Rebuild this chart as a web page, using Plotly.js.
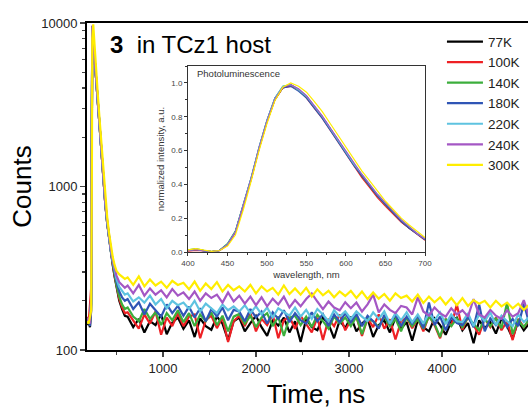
<!DOCTYPE html>
<html>
<head>
<meta charset="utf-8">
<script src="https://cdn.plot.ly/plotly-3.0.1.min.js"></script>
<style>
html,body{margin:0;padding:0;overflow:hidden;background:#fff;}
#chart{width:560px;height:409px;}
</style>
</head>
<body>
<div id="chart"></div>
<script>
// ---------- main decay data ----------
const temperatures = ['77K','100K','140K','180K','220K','240K','300K'];
const colors = ['#000000','#ee2024','#3cae3c','#2f55b5','#5ec3e0','#a457c4','#ffed00'];

const timeNs = [185,200,215,228,236,240,250,265,280,300,320,340,360,380,400,420,440,460,480,500,530,560,590,
  620,680,740,800,860,920,980,1040,1100,1160,
  1220,1280,1340,1400,1460,1520,1580,1640,1700,1760,
  1820,1880,1940,2000,2060,2120,2180,2240,2300,2360,
  2420,2480,2540,2600,2660,2720,2780,2840,2900,2960,
  3020,3080,3140,3200,3260,3320,3380,3440,3500,3560,
  3620,3680,3740,3800,3860,3920,3980,4040,4100,4160,
  4220,4280,4340,4400,4460,4520,4580,4640,4700,4760,
  4820,4880,4940];

const counts77K = [142,150,138,175,3200,9600,7900,6000,4600,3250,2300,1600,1080,780,600,480,400,330,280,240,200,178,162,
  160,138,155,128,150,142,165,125,147,158,
  135,152,120,156,140,133,160,145,115,150,
  158,130,146,162,138,122,152,141,158,128,
  150,112,155,138,132,158,144,118,152,136,
  160,130,145,155,120,142,152,128,158,135,
  148,114,152,138,130,156,142,124,150,158,
  132,146,110,152,136,148,126,156,140,118,
  150,132,146];
const counts100K = [160,145,190,240,3000,9500,7900,6000,4600,3250,2300,1600,1080,780,600,480,400,335,285,245,205,183,168,
  170,150,135,165,145,172,124,158,140,168,
  140,160,165,118,152,162,136,158,112,150,
  162,140,168,130,155,142,165,118,152,160,
  135,162,145,128,158,115,155,140,165,132,
  152,160,122,156,138,165,135,154,116,150,
  158,136,155,130,162,142,118,155,140,190,
  133,160,142,124,155,138,158,132,150,115,
  155,138,152];
const counts140K = [150,155,145,200,3100,9550,7900,6000,4600,3250,2300,1600,1080,780,600,480,400,340,290,250,212,190,178,
  182,160,150,178,155,170,142,168,152,175,
  148,168,140,165,150,170,142,162,130,160,
  166,145,162,138,158,168,140,160,122,158,
  162,142,160,138,164,150,135,160,145,158,
  140,160,125,156,150,138,160,140,155,130,
  158,140,154,135,160,145,120,155,140,156,
  138,158,145,132,155,140,156,136,195,125,
  152,138,155];
const counts180K = [148,152,140,190,3000,9550,7900,6000,4600,3250,2300,1600,1080,780,600,480,400,345,300,262,228,210,200,
  205,178,196,165,192,175,160,190,168,186,
  162,184,158,180,150,178,160,182,152,176,
  172,150,178,158,172,145,170,155,175,148,
  168,152,145,170,150,166,140,165,148,168,
  148,166,140,162,150,135,164,145,165,140,
  160,145,162,136,195,142,160,132,158,146,
  142,160,138,190,130,156,142,160,138,155,
  140,192,145];
const counts220K = [155,145,160,200,3100,9600,7950,6050,4650,3280,2320,1620,1090,790,610,490,405,350,305,272,243,228,218,
  222,198,210,195,215,190,205,180,200,188,
  195,178,200,172,192,180,168,190,175,185,
  172,188,168,185,165,182,158,180,170,162,
  182,160,176,155,178,165,150,175,160,172,
  155,172,160,150,170,155,172,145,168,152,
  170,148,165,145,168,152,170,144,165,150,
  148,168,140,165,150,170,142,162,150,140,
  165,148,160];
const counts240K = [150,158,145,210,3200,9650,8000,6100,4700,3300,2340,1640,1100,800,620,495,410,355,315,285,260,248,240,
  248,222,250,215,238,218,232,210,236,215,
  225,205,228,200,222,208,218,195,225,198,
  215,192,212,188,210,185,206,190,212,182,
  202,185,205,222,198,178,198,182,175,196,
  180,195,172,190,218,170,190,176,168,186,
  182,165,210,172,162,182,168,160,180,165,
  175,160,205,165,158,176,162,155,175,160,
  168,202,158];
const counts300K = [150,145,160,175,1500,8000,9800,7000,5200,3600,2500,1750,1180,850,650,520,430,370,330,305,290,280,272,
  278,250,282,245,270,248,262,240,265,250,
  258,235,262,230,255,236,260,228,250,232,
  245,228,250,222,245,228,240,218,248,220,
  238,218,240,212,235,216,230,210,228,214,
  230,208,228,205,225,206,220,200,222,208,
  215,198,218,194,212,196,210,190,208,188,
  208,186,202,192,200,182,200,185,195,180,
  192,176,190];
const decaySeries = [counts77K,counts100K,counts140K,counts180K,counts220K,counts240K,counts300K];

// ---------- inset photoluminescence data ----------
const wavelengthNm = [400,410,420,430,440,450,460,470,480,490,500,510,520,530,540,550,560,570,580,590,600,610,620,630,640,650,660,670,680,690,700];
const pl77K  = [0.010,0.015,0.008,0.003,0.010,0.045,0.120,0.270,0.430,0.610,0.770,0.900,0.970,0.990,0.960,0.920,0.860,0.800,0.730,0.660,0.590,0.520,0.450,0.390,0.330,0.280,0.230,0.180,0.140,0.110,0.075];
const pl100K = [0.005,0.010,0.006,0.002,0.008,0.040,0.115,0.265,0.430,0.610,0.770,0.900,0.970,0.980,0.960,0.910,0.850,0.790,0.720,0.650,0.580,0.510,0.440,0.380,0.320,0.270,0.220,0.175,0.140,0.105,0.070];
const pl140K = [0.012,0.020,0.010,0.003,0.010,0.050,0.125,0.280,0.440,0.620,0.780,0.910,0.980,0.990,0.960,0.920,0.860,0.800,0.730,0.660,0.590,0.520,0.450,0.390,0.330,0.280,0.230,0.185,0.145,0.110,0.075];
const pl180K = [0.008,0.015,0.007,0.002,0.009,0.045,0.120,0.275,0.440,0.620,0.780,0.910,0.970,0.980,0.950,0.910,0.850,0.790,0.720,0.650,0.580,0.510,0.450,0.390,0.330,0.280,0.230,0.180,0.140,0.105,0.072];
const pl220K = [0.010,0.016,0.008,0.003,0.010,0.045,0.120,0.275,0.440,0.620,0.780,0.910,0.980,0.990,0.960,0.920,0.860,0.800,0.730,0.660,0.590,0.520,0.460,0.400,0.340,0.290,0.240,0.190,0.150,0.110,0.078];
const pl240K = [0.010,0.016,0.008,0.003,0.010,0.043,0.118,0.270,0.435,0.615,0.775,0.905,0.975,0.990,0.965,0.925,0.865,0.805,0.735,0.665,0.595,0.525,0.460,0.400,0.340,0.290,0.240,0.190,0.150,0.110,0.078];
const pl300K = [0.012,0.020,0.012,0.004,0.009,0.035,0.100,0.250,0.420,0.600,0.760,0.895,0.975,1.000,0.980,0.945,0.890,0.830,0.760,0.690,0.620,0.550,0.480,0.420,0.360,0.300,0.250,0.200,0.160,0.120,0.085];
const plSeries = [pl77K,pl100K,pl140K,pl180K,pl220K,pl240K,pl300K];

// tick labels / positions
const yMajorTicks = [100,1000,10000];
const yMajorLabels = ['100','1000','10000'];
const yMinorTicks = [200,300,400,500,600,700,800,900,2000,3000,4000,5000,6000,7000,8000,9000];
const xTicks = [1000,2000,3000,4000];

const traces = [];
temperatures.forEach((name,i)=>{
  traces.push({
    x: timeNs, y: decaySeries[i], type:'scatter', mode:'lines', name: name,
    line:{color:colors[i], width:2.2}, xaxis:'x', yaxis:'y'
  });
});
temperatures.forEach((name,i)=>{
  traces.push({
    x: wavelengthNm, y: plSeries[i], type:'scatter', mode:'lines', name: name, showlegend:false,
    line:{color:colors[i], width:1.2}, xaxis:'x2', yaxis:'y2'
  });
});

const font = 'Liberation Sans, Arial, sans-serif';
const layout = {
  width:560, height:409,
  margin:{l:87, r:15, t:23, b:59},
  paper_bgcolor:'#ffffff', plot_bgcolor:'rgba(0,0,0,0)',
  font:{family:font, color:'#222'},
  showlegend:true,
  legend:{x:0.775, y:0.99, xanchor:'left', yanchor:'top', bgcolor:'rgba(0,0,0,0)',
          font:{size:13.5, family:font, color:'#222'}, tracegroupgap:0, itemwidth:36},
  xaxis:{
    range:[183,5108], tickvals:xTicks, ticks:'outside', ticklen:5, tickwidth:1.5,
    minor:{dtick:500, tick0:0, ticks:'outside', ticklen:3, tickwidth:1.2},
    showline:true, mirror:true, linewidth:2, linecolor:'#000', showgrid:false, zeroline:false,
    tickfont:{size:13, family:font, color:'#222'},
    title:{text:'Time, ns', font:{size:26, family:font, color:'#000'}, standoff:18}
  },
  yaxis:{
    type:'log', range:[2,4], tickvals:yMajorTicks, ticktext:yMajorLabels,
    ticks:'outside', ticklen:5, tickwidth:1.5,
    minor:{tickvals:yMinorTicks, ticks:'outside', ticklen:3, tickwidth:1.2},
    showline:true, mirror:true, linewidth:2, linecolor:'#000', showgrid:false, zeroline:false,
    tickfont:{size:13, family:font, color:'#222'},
    title:{text:'Counts', font:{size:26, family:font, color:'#000'}, standoff:2}
  },
  xaxis2:{
    domain:[0.2205,0.738], anchor:'y2', range:[400,700], dtick:50, tick0:400,
    ticks:'outside', ticklen:3, tickwidth:1, tickcolor:'#333',
    minor:{dtick:25, ticks:'outside', ticklen:2},
    showline:true, mirror:true, linewidth:1, linecolor:'#333', showgrid:false, zeroline:false,
    tickfont:{size:8, family:font, color:'#444'},
    title:{text:'wavelength, nm', font:{size:9.5, family:font, color:'#333'}, standoff:4}
  },
  yaxis2:{
    domain:[0.2997,0.8685], anchor:'x2', range:[0,1.1], dtick:0.2, tick0:0, tickformat:'.1f',
    ticks:'outside', ticklen:3, tickwidth:1, tickcolor:'#333',
    minor:{dtick:0.1, ticks:'outside', ticklen:2},
    showline:true, mirror:true, linewidth:1, linecolor:'#333', showgrid:false, zeroline:false,
    tickfont:{size:8, family:font, color:'#444'},
    title:{text:'normalized intensity, a.u.', font:{size:9.5, family:font, color:'#333'}, standoff:4}
  },
  annotations:[
    {xref:'paper', yref:'paper', x:0.045, y:0.933, xanchor:'left', yanchor:'middle', showarrow:false,
     text:'<b>3</b>&nbsp; in TCz1 host', font:{size:24, family:font, color:'#000'}},
    {xref:'paper', yref:'paper', x:0.2358, y:0.847, xanchor:'left', yanchor:'middle', showarrow:false,
     text:'Photoluminescence', font:{size:9.5, family:font, color:'#333'}}
  ]
};

Plotly.newPlot('chart', traces, layout, {staticPlot:true, displayModeBar:false});
</script>
</body>
</html>
